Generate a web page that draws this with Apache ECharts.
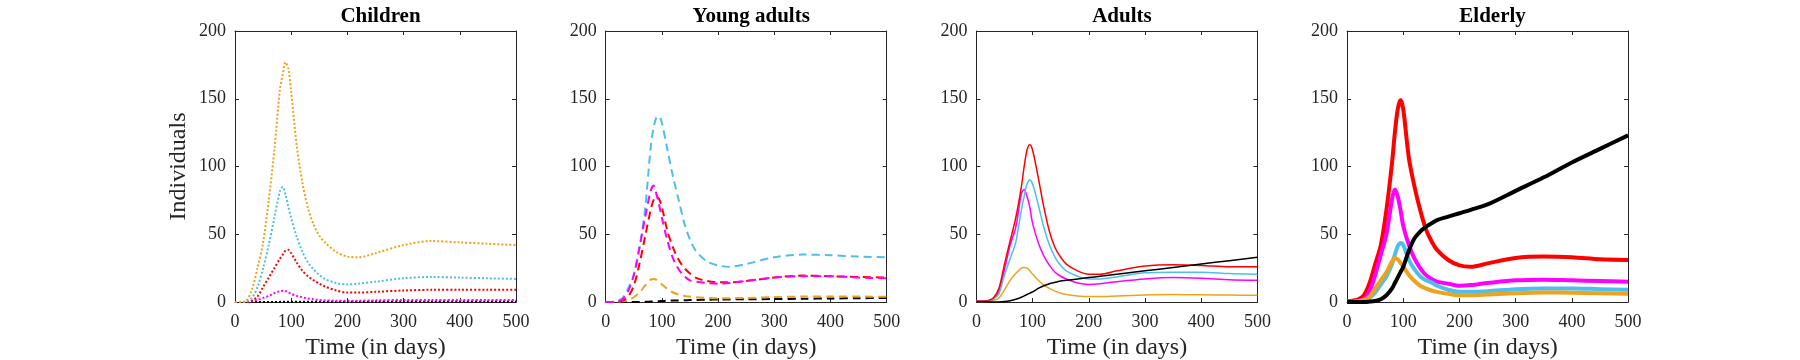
<!DOCTYPE html>
<html>
<head>
<meta charset="utf-8">
<script src="https://cdn.jsdelivr.net/npm/echarts@6/dist/echarts.min.js"></script>
<style>
  html, body { margin: 0; padding: 0; background: #fff; }
  #chart { width: 1800px; height: 360px; }
</style>
</head>
<body>
<div id="chart"></div>
<script>
// time points (days) shared by every curve
const days = [0, 10, 20, 30, 40, 50, 60, 70, 80, 85, 90, 95, 100, 110, 120, 130, 140, 150, 160, 180, 200, 220, 250, 300, 350, 400, 450, 500];

const panelTitles = ['Children', 'Young adults', 'Adults', 'Elderly'];
const xTicks = [0, 100, 200, 300, 400, 500];
const yTicks = [0, 50, 100, 150, 200];

// Children (dotted)
const childOrange  = [0, 0, 1, 9, 25, 44, 75, 112, 157, 168, 177, 172, 155, 115, 88, 69, 57, 49, 44, 37, 33.5, 33, 36, 42, 45, 44, 43, 42];
const childBlue    = [0, 0, 0.5, 3, 11, 25, 42, 62, 82, 85, 79, 70, 62, 48, 37, 29, 24, 20, 17, 14, 13, 13.5, 15, 17.5, 18.5, 18, 17.5, 17];
const childRed     = [0, 0, 0, 1, 4, 11, 18, 25, 32, 35, 38, 38.5, 36, 29, 23, 19, 16, 13.5, 11.5, 8.5, 7, 7, 7.5, 8.5, 9, 9, 9, 9];
const childMagenta = [0, 0, 0, 0.5, 1.5, 3, 4.5, 6.5, 8, 8.3, 8, 7, 6, 4.5, 3.5, 2.5, 2, 1.5, 1.2, 1, 1, 1, 1.2, 1.5, 1.5, 1.5, 1.5, 1.5];
const childBlack   = [0, 0, 0, 0, 0, 0, 0, 0, 0.1, 0.1, 0.1, 0.1, 0.1, 0.2, 0.2, 0.2, 0.2, 0.2, 0.2, 0.2, 0.2, 0.2, 0.3, 0.3, 0.3, 0.3, 0.3, 0.3];

// Young adults (dashed)
const youngBlue    = [0, 0, 0.5, 3, 10, 20, 40, 68, 114, 128, 136, 137, 132, 112, 92, 75, 58, 46, 38, 30, 27, 26, 28, 33, 35, 34.5, 33.5, 33];
const youngMagenta = [0, 0, 0.5, 2, 8, 20, 40, 62, 82, 86, 80, 72, 62, 45, 32, 24, 19, 16, 15, 14, 13.5, 14, 15.5, 18, 19, 19, 18, 17.5];
const youngRed     = [0, 0, 0, 1, 4, 12, 28, 48, 68, 75, 78, 76, 70, 52, 40, 31, 25, 21, 18, 15.5, 14.5, 14.5, 15.5, 18, 19.5, 19, 18.5, 18];
const youngOrange  = [0, 0, 0, 0.5, 1.5, 3.5, 7, 12, 16.5, 17, 16.5, 15, 13, 9.5, 7, 5.5, 4.5, 4, 3.5, 3, 2.8, 2.8, 3, 3.6, 4, 4, 4, 3.8];
const youngBlack   = [0, 0, 0, 0, 0, 0, 0, 0.1, 0.3, 0.4, 0.5, 0.6, 0.7, 0.9, 1.1, 1.2, 1.3, 1.4, 1.5, 1.7, 1.8, 1.9, 2, 2.2, 2.4, 2.6, 2.8, 3];

// Adults (thin solid)
const adultRed     = [0.5, 0.5, 1, 3, 10, 28, 45, 62, 85, 100, 112, 116, 112, 92, 70, 52, 40, 33, 28, 23, 20.5, 20.5, 23, 26.5, 27.5, 27, 26, 26];
const adultBlue    = [0.5, 0.6, 0.8, 2, 6, 20, 32, 44, 68, 78, 87, 90, 87, 72, 55, 42, 33, 27, 23, 19, 17, 17, 18.5, 21.5, 22, 22, 21, 20.5];
const adultMagenta = [1, 1, 1, 2, 8, 24, 42, 55, 80, 83, 78, 70, 58, 44, 34, 27, 22, 19, 17, 14, 13, 13.5, 15, 17, 18, 17.5, 16.5, 16];
const adultOrange  = [0, 0, 0.3, 1, 3, 9, 16, 21, 25, 25.5, 25, 23, 20.5, 16, 12.5, 10, 8, 6.5, 5.5, 4.5, 4, 4, 4.5, 5.2, 5.5, 5.3, 5.1, 5];
const adultBlack   = [0, 0, 0, 0, 0, 0.3, 1, 2, 3.5, 4.5, 5.5, 6.5, 7.5, 10, 12, 13.5, 14.5, 15.5, 16, 17, 18, 19, 20.5, 23, 25.5, 28, 30.5, 33];

// Elderly (thick solid)
const oldRed       = [0.5, 1, 2, 5, 14, 28, 42, 68, 103, 125, 142, 149, 142, 106, 85, 68, 54, 45, 38.5, 31, 27, 26, 28.5, 32.5, 33.5, 33, 31.5, 31];
const oldMagenta   = [0.5, 0.5, 1, 2, 8, 20, 35, 50, 76, 83, 78, 68, 56, 42, 32, 25, 20, 17, 15, 13.5, 12, 12.5, 14, 16, 16.5, 16, 15.5, 15];
const oldBlue      = [0, 0, 0.3, 1, 3, 7, 13, 19, 28, 35, 41, 43.5, 42, 31, 24, 19, 16, 14.5, 12, 9, 7.5, 7.5, 8, 9.5, 10, 10, 9.5, 9];
const oldOrange    = [0, 0, 0.5, 1.5, 4, 10, 16, 22, 30, 32.4, 31.5, 29, 26, 20, 15.5, 12, 10, 8.5, 7.5, 6, 5, 5, 5.5, 6.5, 7, 6.8, 6.5, 6];
const oldBlack     = [0, 0, 0, 0, 0.3, 0.8, 2, 5, 10, 14, 18, 22, 26, 38, 47, 52, 55.5, 58, 60.5, 63, 65.5, 68, 72, 82, 92, 103, 113, 123];

const ORANGE = '#EDA31D';
const BLUE = '#4DBEEE';
const RED = '#FF0000';
const MAGENTA = '#FF00FF';
const BLACK = '#000000';

const FONT = 'Liberation Serif';
const TEXT = '#262626';

const plotLeft = 235;
const plotStep = 370.7;
const plotW = 281;
const plotTop = 31;
const plotH = 271;

function pairs(vals) {
    return days.map((d, i) => [d, vals[i]]);
}

let grids = [], xAxes = [], yAxes = [], titles = [], series = [];

for (let i = 0; i < 4; i++) {
    let left = plotLeft + i * plotStep;
    grids.push({ left: left, top: plotTop, width: plotW, height: plotH, containLabel: false, outerBoundsMode: 'none' });
    titles.push({
        text: panelTitles[i],
        left: left + plotW / 2,
        top: 1,
        textAlign: 'center',
        textStyle: { fontFamily: FONT, fontSize: 21, fontWeight: 'bold', color: '#000' }
    });
    let base = {
        type: 'value', gridIndex: i, min: xTicks[0], max: xTicks[xTicks.length - 1], interval: 100,
        splitLine: { show: false },
        axisLine: { show: true, onZero: false, lineStyle: { color: TEXT, width: 1 } },
        axisTick: { show: true, inside: true, length: 4, lineStyle: { color: TEXT } }
    };
    xAxes.push(Object.assign({}, base, {
        position: 'bottom',
        name: 'Time (in days)', nameLocation: 'middle', nameGap: 32,
        nameTextStyle: { fontFamily: FONT, fontSize: 24, color: TEXT },
        axisLabel: { fontFamily: FONT, fontSize: 18, color: TEXT, margin: 11 }
    }));
    xAxes.push(Object.assign({}, base, { position: 'top', axisLabel: { show: false } }));

    let ybase = {
        type: 'value', gridIndex: i, min: yTicks[0], max: yTicks[yTicks.length - 1], interval: 50,
        splitLine: { show: false },
        axisLine: { show: true, onZero: false, lineStyle: { color: TEXT, width: 1 } },
        axisTick: { show: true, inside: true, length: 4, lineStyle: { color: TEXT } }
    };
    let yMain = Object.assign({}, ybase, {
        position: 'left',
        axisLabel: { fontFamily: FONT, fontSize: 18, color: TEXT, margin: 9 }
    });
    if (i === 0) {
        yMain.name = 'Individuals';
        yMain.nameLocation = 'middle';
        yMain.nameGap = 44;
        yMain.nameTextStyle = { fontFamily: FONT, fontSize: 24, color: TEXT };
    }
    yAxes.push(yMain);
    yAxes.push(Object.assign({}, ybase, { position: 'right', axisLabel: { show: false } }));
}

function addLine(panel, vals, color, width, type) {
    series.push({
        type: 'line',
        xAxisIndex: panel * 2,
        yAxisIndex: panel * 2,
        data: pairs(vals),
        smooth: 0.3,
        symbol: 'none',
        silent: true,
        lineStyle: { color: color, width: width, type: type, cap: 'butt', join: 'round' }
    });
}

const dot = [2, 2];
addLine(0, childBlack, BLACK, 2, dot);
addLine(0, childMagenta, MAGENTA, 2, dot);
addLine(0, childRed, RED, 2, dot);
addLine(0, childBlue, BLUE, 2, dot);
addLine(0, childOrange, ORANGE, 2, dot);

const dash = [8, 5];
addLine(1, youngBlack, BLACK, 2, dash);
addLine(1, youngOrange, ORANGE, 2, dash);
addLine(1, youngBlue, BLUE, 2, dash);
addLine(1, youngRed, RED, 2, dash);
addLine(1, youngMagenta, MAGENTA, 2, dash);

addLine(2, adultOrange, ORANGE, 1.5, 'solid');
addLine(2, adultMagenta, MAGENTA, 1.5, 'solid');
addLine(2, adultBlue, BLUE, 1.5, 'solid');
addLine(2, adultRed, RED, 1.5, 'solid');
addLine(2, adultBlack, BLACK, 1.5, 'solid');

addLine(3, oldRed, RED, 4, 'solid');
addLine(3, oldMagenta, MAGENTA, 4, 'solid');
addLine(3, oldBlue, BLUE, 4, 'solid');
addLine(3, oldOrange, ORANGE, 4, 'solid');
addLine(3, oldBlack, BLACK, 4, 'solid');

let myChart = echarts.init(document.getElementById('chart'));
myChart.setOption({
    animation: false,
    backgroundColor: '#fff',
    title: titles,
    grid: grids,
    xAxis: xAxes,
    yAxis: yAxes,
    series: series
});
</script>
</body>
</html>
